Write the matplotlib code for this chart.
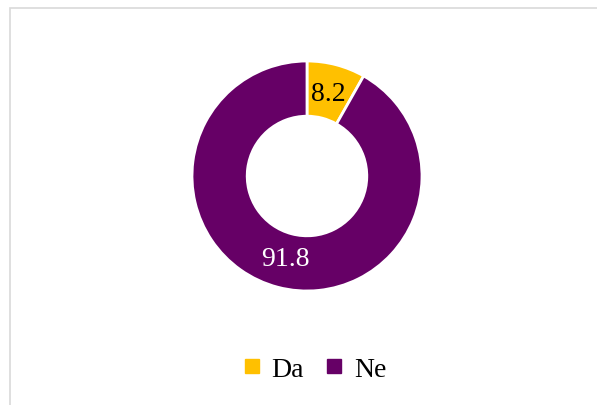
import matplotlib.pyplot as plt
import numpy as np
from matplotlib.patches import Rectangle

labels = ['Da', 'Ne']
values = [8.2, 91.8]
colors = ['#FFC000', '#660066']
label_colors = ['black', 'white']

plt.rcParams['font.family'] = ['Liberation Serif', 'DejaVu Serif']

W, H = 597, 406
fig = plt.figure(figsize=(W / 100, H / 100), dpi=100)

# light grey frame of the chart area
fig.patches.append(Rectangle((10 / W, -0.1), 1.1, 1 - 9 / H + 0.1, transform=fig.transFigure,
                             fill=False, edgecolor='#D9D9D9', lw=1.2))

cx, cy, R = 307, 177, 115
ax = fig.add_axes([(cx - R) / W, 1 - (cy + R) / H, 2 * R / W, 2 * R / H])
wedges, _ = ax.pie(values, colors=colors, startangle=90, counterclock=False, radius=1,
                   wedgeprops=dict(width=0.48, edgecolor='white', linewidth=2))
ax.set_xlim(-1, 1)
ax.set_ylim(-1, 1)
ax.set_aspect('equal')
ax.axis('off')

for w, v, c in zip(wedges, values, label_colors):
    ang = np.deg2rad((w.theta1 + w.theta2) / 2)
    ax.text(0.74 * np.cos(ang), 0.74 * np.sin(ang), f'{v}', ha='center', va='center',
            fontsize=20, color=c)

handles = [plt.Line2D([], [], marker='s', ls='', color=c, markersize=10) for c in colors]
fig.legend(handles, labels, loc='center', bbox_to_anchor=(312 / W, 1 - 370 / H), ncol=2,
           frameon=False, fontsize=20, handletextpad=0.2, columnspacing=0.6, handlelength=1)

fig.savefig('out.png', dpi=100)
